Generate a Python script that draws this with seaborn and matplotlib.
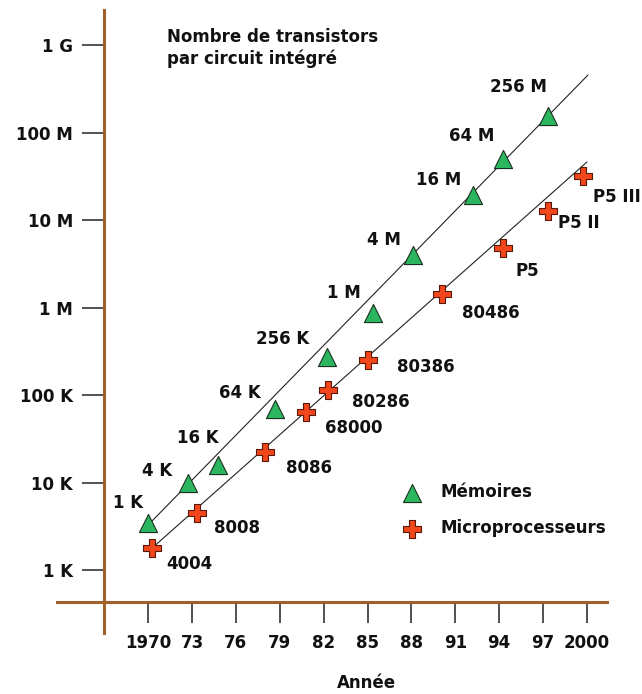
import seaborn as sns
import matplotlib.pyplot as plt
from matplotlib.ticker import FixedLocator, NullLocator

# memoires (triangles)
mem_years = [1970.0, 1972.74, 1974.8, 1978.7, 1982.26, 1985.34, 1988.08, 1992.19, 1994.25, 1997.33]
mem_counts = [3.44e3, 9.9e3, 1.58e4, 6.9e4, 2.7e5, 8.6e5, 4.0e6, 1.93e7, 4.98e7, 1.55e8]
mem_labels = ['1 K', '4 K', '16 K', '64 K', '256 K', '1 M', '4 M', '16 M', '64 M', '256 M']

# microprocesseurs (croix)
cpu_years = [1970.27, 1973.36, 1978.01, 1980.82, 1982.33, 1985.0, 1990.07, 1994.25, 1997.33, 1999.73]
cpu_counts = [1.78e3, 4.48e3, 2.23e4, 6.4e4, 1.14e5, 2.51e5, 1.43e6, 4.79e6, 1.27e7, 3.18e7]
cpu_labels = ['4004', '8008', '8086', '68000', '80286', '80386', '80486', 'P5', 'P5 II', 'P5 III']

# droites de tendance
mem_trend_years = [1970.0, 2000.07]
mem_trend_counts = [3.27e3, 4.54e8]
cpu_trend_years = [1970.27, 2000.0]
cpu_trend_counts = [1.78e3, 4.6e7]

year_ticks = [1970, 1973, 1976, 1979, 1982, 1985, 1988, 1991, 1994, 1997, 2000]
year_tick_labels = ['1970', '73', '76', '79', '82', '85', '88', '91', '94', '97', '2000']
count_ticks = [1e3, 1e4, 1e5, 1e6, 1e7, 1e8, 1e9]
count_tick_labels = ['1 K', '10 K', '100 K', '1 M', '10 M', '100 M', '1 G']

# label offsets in pixels (dx, dy)
mem_offsets = [(-20, 20), (-31, 12), (-21, 27), (-36, 16), (-45, 18),
               (-29, 20), (-29, 15), (-34, 15), (-31, 23), (-29, 29)]
cpu_offsets = [(37, -16), (40, -15), (44, -16), (47, -16), (52, -12),
               (58, -7), (49, -19), (24, -23), (31, -12), (34, -21)]

axis_color = '#a0602a'
green = '#2bb55f'
red = '#f2461c'
ink = '#111111'


def main():
    sns.set_style('white')
    plt.rcParams['font.family'] = ['DejaVu Sans']
    plt.rcParams['font.weight'] = 'bold'

    fig = plt.figure(figsize=(6.42, 6.94), dpi=100)
    ax = fig.add_axes([57 / 642, 61 / 694, 550 / 642, 623 / 694])
    ax.set_yscale('log')

    sns.lineplot(x=mem_trend_years, y=mem_trend_counts, ax=ax, color='#222222', linewidth=0.8)
    sns.lineplot(x=cpu_trend_years, y=cpu_trend_counts, ax=ax, color='#222222', linewidth=0.8)

    sns.scatterplot(x=mem_years, y=mem_counts, ax=ax, marker='^', s=170, color=green,
                    edgecolor='#1c3020', linewidth=0.8, label='Mémoires', zorder=3)
    sns.scatterplot(x=cpu_years, y=cpu_counts, ax=ax, marker='P', s=170, color=red,
                    edgecolor='#5a1808', linewidth=0.8, label='Microprocesseurs', zorder=3)

    for x, y, lbl, off in zip(mem_years, mem_counts, mem_labels, mem_offsets):
        ax.annotate(lbl, (x, y), xytext=off, textcoords='offset pixels',
                    ha='center', va='center', fontsize=12, fontweight='bold', color=ink)
    for x, y, lbl, off in zip(cpu_years, cpu_counts, cpu_labels, cpu_offsets):
        ax.annotate(lbl, (x, y), xytext=off, textcoords='offset pixels',
                    ha='center', va='center', fontsize=12, fontweight='bold', color=ink)

    ax.set_xlim(1963.77, 2001.37)
    ax.set_ylim(10 ** 2.28, 10 ** 9.4)

    ax.spines['top'].set_visible(False)
    ax.spines['right'].set_visible(False)
    ax.spines['left'].set_position(('data', 1967.0))
    ax.spines['bottom'].set_position(('data', 10 ** 2.634))
    for side in ['left', 'bottom']:
        ax.spines[side].set_color(axis_color)
        ax.spines[side].set_linewidth(2.2)

    ax.xaxis.set_major_locator(FixedLocator(year_ticks))
    ax.xaxis.set_minor_locator(NullLocator())
    ax.set_xticklabels(year_tick_labels)
    ax.yaxis.set_major_locator(FixedLocator(count_ticks))
    ax.yaxis.set_minor_locator(NullLocator())
    ax.set_yticklabels(count_tick_labels)
    ax.tick_params(axis='both', which='major', direction='out', color='#333333',
                   width=1.2, labelsize=12, labelcolor=ink,
                   bottom=True, left=True, top=False, right=False)
    ax.tick_params(axis='x', length=15, pad=8)
    ax.tick_params(axis='y', length=15.5, pad=7)
    ax.tick_params(which='minor', length=0)

    ax.set_xlabel('Année', fontsize=12, fontweight='bold', color=ink)
    ax.set_ylabel('')
    ax.xaxis.set_label_coords((366 - 57) / 550, (633 - 674) / 623)

    fig.text(167 / 642, 1 - 42 / 694, 'Nombre de transistors', fontsize=12,
             fontweight='bold', va='baseline', ha='left', color=ink)
    fig.text(167 / 642, 1 - 64 / 694, 'par circuit intégré', fontsize=12,
             fontweight='bold', va='baseline', ha='left', color=ink)

    ax.legend(loc='upper left', bbox_to_anchor=(395 / 642, 1 - 483 / 694),
              bbox_transform=fig.transFigure, frameon=False, fontsize=12,
              handletextpad=0.7, labelspacing=1.1, borderpad=0, borderaxespad=0,
              scatterpoints=1, labelcolor=ink)

    fig.savefig('out.png', dpi=100)
    plt.close(fig)


if __name__ == '__main__':
    main()
